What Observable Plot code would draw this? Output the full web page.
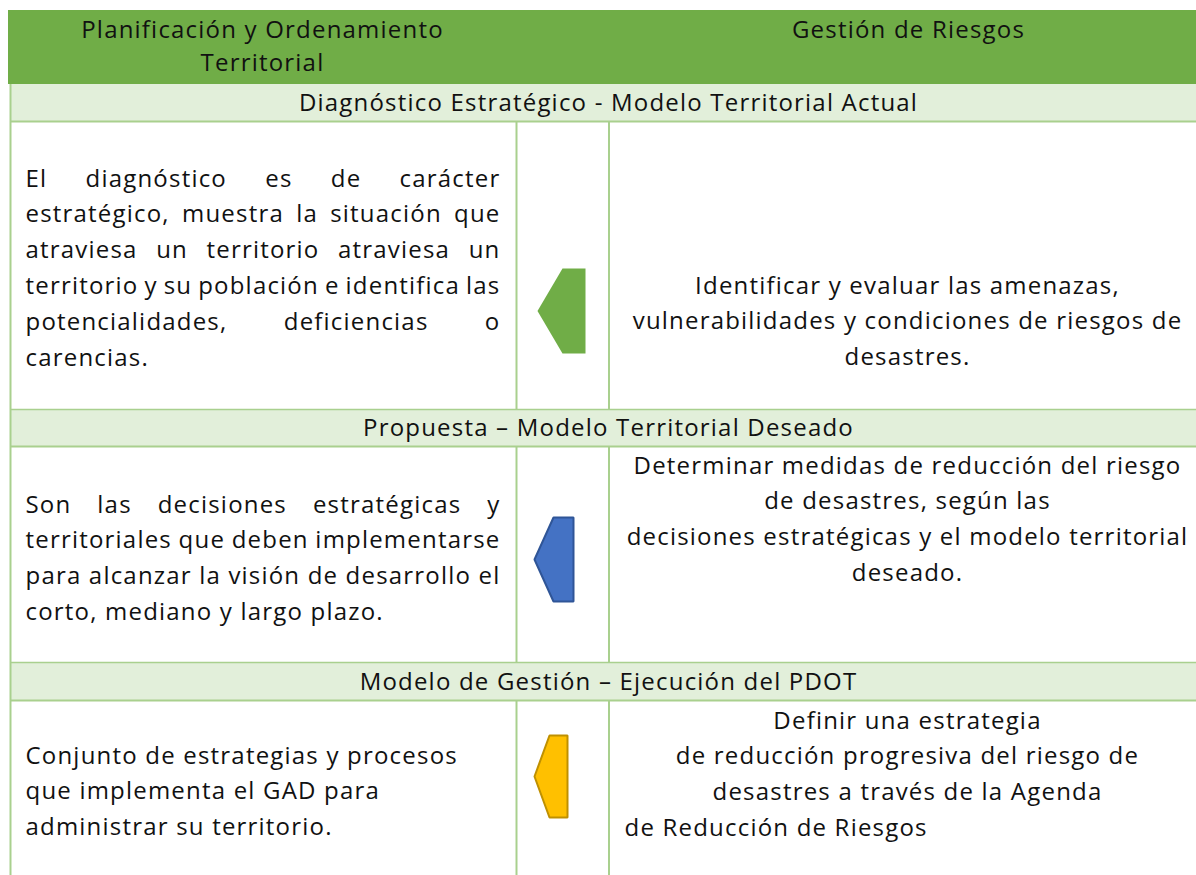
<!DOCTYPE html>
<html>
<head>
<meta charset="utf-8">
<script src="https://cdn.jsdelivr.net/npm/d3@7"></script>
<script src="https://cdn.jsdelivr.net/npm/@observablehq/plot@0.6"></script>
<style>
  html, body { margin: 0; padding: 0; background: #ffffff; }
  #chart svg { display: block; }
  #chart svg text { letter-spacing: 1.2px; }
  #chart svg g.title-text text { letter-spacing: 1.35px; }
</style>
</head>
<body>
<div id="chart"></div>
<script>
// ---------------- DATA (text content of the table) ----------------
const columnHeaders = [
  ["Planificación y Ordenamiento", "Territorial"],
  ["Gestión de Riesgos"]
];
const stageTitles = [
  "Diagnóstico Estratégico - Modelo Territorial Actual",
  "Propuesta – Modelo Territorial Deseado",
  "Modelo de Gestión – Ejecución del PDOT"
];
const planningText = [
  ["El diagnóstico es de carácter",
   "estratégico, muestra la situación que",
   "atraviesa un territorio atraviesa un",
   "territorio y su población e identifica las",
   "potencialidades, deficiencias o",
   "carencias."],
  ["Son las decisiones estratégicas y",
   "territoriales que deben implementarse",
   "para alcanzar la visión de desarrollo el",
   "corto, mediano y largo plazo."],
  ["Conjunto de estrategias y procesos",
   "que implementa el GAD para",
   "administrar su territorio."]
];
const riskText = [
  ["Identificar y evaluar las amenazas,",
   "vulnerabilidades y condiciones de riesgos de",
   "desastres."],
  ["Determinar medidas de reducción del riesgo",
   "de desastres, según las",
   "decisiones estratégicas y el modelo territorial",
   "deseado."],
  ["Definir una estrategia",
   "de reducción progresiva del riesgo de",
   "desastres a través de la Agenda",
   "de Reducción de Riesgos"]
];

// ---------------- LAYOUT & STYLE ----------------
const W = 1196, H = 875;
const font = "'Open Sans', Lato, sans-serif";
const fontSize = 24;
const lineStep = 35.8;
const headerColor = "#70AD47";
const bandColor = "#E2EFDA";
const gridColor = "#A9D08E";
const textColor = "#111111";
const tableLeft = 10, tableRight = W;
const colDivA = 516, colDivB = 608.5;
const header = {top: 10, bottom: 84, baselines: [[37, 70], [37]], centers: [262, 908]};
const bands = [
  {top: 84, bottom: 121, baseline: 110},
  {top: 409, bottom: 446, baseline: 435},
  {top: 662, bottom: 700, baseline: 689}
];
const rows = [
  {top: 121, bottom: 409, leftBaseline: 186, rightBaseline: 293},
  {top: 446, bottom: 662, leftBaseline: 512, rightBaseline: 473},
  {top: 700, bottom: 880, leftBaseline: 763, rightBaseline: 728}
];
const leftTextX = 25, justifyRight = 500;
const justifiedRows = [0, 1];
const rightCenterX = 907, rightStartX = 624;
const rightStartAligned = [[2, 3]];
const arrows = [
  {tipX: 537, shoulderX: 562, backX: 585, top: 268, bottom: 353, fill: "#70AD47", stroke: "#70AD47", sw: 0},
  {tipX: 534, shoulderX: 553, backX: 573, top: 517, bottom: 601, fill: "#4472C4", stroke: "#2F5597", sw: 2},
  {tipX: 534, shoulderX: 549, backX: 567, top: 735, bottom: 817, fill: "#FFC000", stroke: "#BF9000", sw: 2}
];

// ---------------- derived tables ----------------
const headerLines = [];
columnHeaders.forEach((ls, c) => ls.forEach((t, i) =>
  headerLines.push({text: t, x: header.centers[c], y: header.baselines[c][i]})));

const bandTitles = stageTitles.map((t, i) => ({text: t, x: (tableLeft + 1206) / 2, y: bands[i].baseline}));

const leftLines = [];
const justifiedSet = new Set();
planningText.forEach((para, r) => para.forEach((t, i) => {
  leftLines.push({text: t, x: leftTextX, y: rows[r].leftBaseline + i * lineStep});
  if (justifiedRows.includes(r) && i < para.length - 1) justifiedSet.add(t);
}));

const rightCentered = [], rightStart = [];
riskText.forEach((para, r) => para.forEach((t, i) => {
  const isStart = rightStartAligned.some(([rr, ii]) => rr === r && ii === i);
  const d = {text: t, x: isStart ? rightStartX : rightCenterX, y: rows[r].rightBaseline + i * lineStep};
  (isStart ? rightStart : rightCentered).push(d);
}));

const arrowPts = [];
arrows.forEach((a, k) => {
  const mid = (a.top + a.bottom) / 2;
  [[a.shoulderX, a.top], [a.backX, a.top], [a.backX, a.bottom], [a.shoulderX, a.bottom], [a.tipX, mid]]
    .forEach(([x, y]) => arrowPts.push({k, x, y}));
});

const hRules = [];
bands.forEach((b, i) => {
  if (i > 0) hRules.push({y: b.top, w: 1.5});
  hRules.push({y: b.bottom, w: 2});
});
const vRules = [];
rows.forEach(r => [tableLeft, colDivA, colDivB].forEach(x => vRules.push({x, y1: r.top, y2: r.bottom})));
bands.forEach(b => vRules.push({x: tableLeft, y1: b.top, y2: b.bottom}));

const textOpts = {fill: textColor, fontSize, lineAnchor: "bottom"};

const plot = Plot.plot({
  width: W, height: H,
  margin: 0,
  x: {domain: [0, W], range: [0, W], axis: null},
  y: {domain: [0, H], range: [0, H], axis: null},
  style: {fontFamily: font, background: "#ffffff", overflow: "hidden"},
  marks: [
    Plot.rect([header], {x1: 8, x2: tableRight, y1: d => d.top, y2: d => d.bottom, fill: headerColor}),
    Plot.rect(bands, {x1: tableLeft, x2: tableRight, y1: "top", y2: "bottom", fill: bandColor}),
    Plot.ruleY(hRules, {y: "y", x1: tableLeft, x2: tableRight, stroke: gridColor, strokeWidth: d => d.w}),
    Plot.ruleX(vRules, {x: "x", y1: "y1", y2: "y2", stroke: gridColor, strokeWidth: 2}),
    ...arrows.map((a, k) => Plot.line(arrowPts.filter(p => p.k === k), {
      x: "x", y: "y", curve: "linear-closed", fill: a.fill, stroke: a.stroke, strokeWidth: a.sw, strokeLinejoin: "miter"
    })),
    Plot.text(headerLines, {...textOpts, x: "x", y: "y", text: "text", textAnchor: "middle", ariaLabel: "header"}),
    Plot.text(bandTitles, {...textOpts, x: "x", y: "y", text: "text", textAnchor: "middle", ariaLabel: "stage"}),
    Plot.text(leftLines, {...textOpts, x: "x", y: "y", text: "text", textAnchor: "start"}),
    Plot.text(rightCentered, {...textOpts, x: "x", y: "y", text: "text", textAnchor: "middle"}),
    Plot.text(rightStart, {...textOpts, x: "x", y: "y", text: "text", textAnchor: "start"})
  ]
});

document.getElementById("chart").append(plot);

// wider tracking for header and stage titles
d3.select(plot).selectAll("g[aria-label='header'], g[aria-label='stage']").classed("title-text", true);

// justify the left-column paragraph lines (like a word processor)
d3.select(plot).selectAll("text").each(function () {
  const t = this.textContent;
  if (!justifiedSet.has(t)) return;
  const spaces = (t.match(/ /g) || []).length;
  if (!spaces) return;
  const w = this.getComputedTextLength();
  this.style.wordSpacing = ((justifyRight - leftTextX - w) / spaces) + "px";
});
</script>
</body>
</html>
